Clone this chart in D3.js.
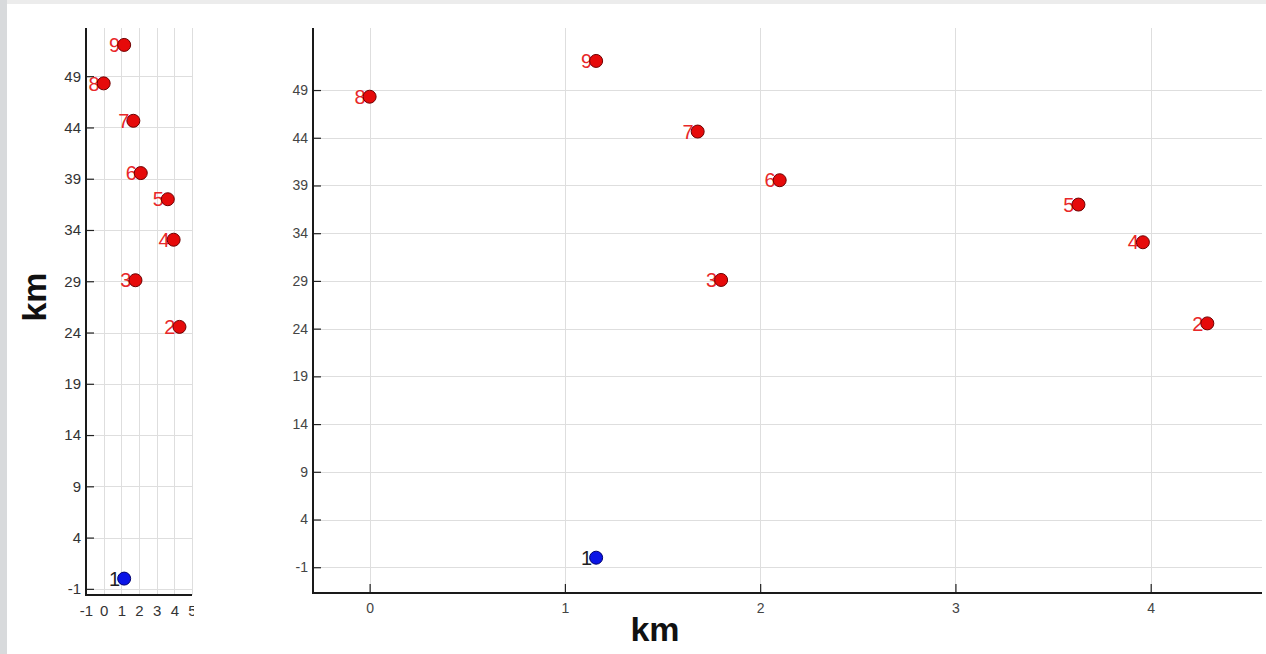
<!DOCTYPE html>
<html>
<head>
<meta charset="utf-8">
<script src="https://cdn.jsdelivr.net/npm/d3@7/dist/d3.min.js"></script>
<style>
  html, body { margin: 0; padding: 0; background: #ffffff; }
  svg { display: block; }
  text { font-family: "Liberation Sans", Arial, sans-serif; }
</style>
</head>
<body>
<svg id="chart" width="1266" height="654"></svg>
<script>
// ---- data ----
const pointIds = ["1", "2", "3", "4", "5", "6", "7", "8", "9"];
const xKm = [1.16, 4.29, 1.80, 3.96, 3.63, 2.10, 1.68, 0.00, 1.16];
const yKm = [0.0, 24.55, 29.1, 33.05, 37.0, 39.55, 44.65, 48.3, 52.05];
const pointGroups = ["station", "event", "event", "event", "event", "event", "event", "event", "event"];
const yTickValues = [-1, 4, 9, 14, 19, 24, 29, 34, 39, 44, 49];
const xTickValuesMain = [0, 1, 2, 3, 4];
const xTickValuesSmall = [-1, 0, 1, 2, 3, 4, 5];
const axisTitle = "km";

const points = pointIds.map((id, i) => ({ id, x: xKm[i], y: yKm[i], group: pointGroups[i] }));

const fillColor = d3.scaleOrdinal().domain(["station", "event"]).range(["#0a14e6", "#e60a0a"]);
const strokeColor = d3.scaleOrdinal().domain(["station", "event"]).range(["#00006e", "#6e0000"]);
const labelColor = d3.scaleOrdinal().domain(["station", "event"]).range(["#222222", "#e8282a"]);
const tickFmt = d => String(d);

const svg = d3.select("#chart");

// frame background
svg.append("rect").attr("x", 0).attr("y", 0).attr("width", 1266).attr("height", 654).attr("fill", "#ffffff");
svg.append("rect").attr("x", 0).attr("y", 0).attr("width", 1266).attr("height", 4).attr("fill", "#ececec");
svg.append("rect").attr("x", 0).attr("y", 0).attr("width", 7).attr("height", 654).attr("fill", "#d8dadc");

function drawPanel(cfg) {
  const x = d3.scaleLinear().domain(cfg.xDomain).range([cfg.left, cfg.right]);
  const y = d3.scaleLinear().domain(cfg.yDomain).range([cfg.bottom, cfg.top]);
  const g = svg.append("g");

  // grid
  g.append("g").selectAll("line.h").data(yTickValues).join("line")
    .attr("x1", cfg.left).attr("x2", cfg.right)
    .attr("y1", d => Math.round(y(d)) + 0.5).attr("y2", d => Math.round(y(d)) + 0.5)
    .attr("stroke", "#dedede").attr("stroke-width", 1);
  g.append("g").selectAll("line.v").data(cfg.xTicks).join("line")
    .attr("x1", d => Math.round(x(d)) + 0.5).attr("x2", d => Math.round(x(d)) + 0.5)
    .attr("y1", cfg.top).attr("y2", cfg.bottom)
    .attr("stroke", "#dedede").attr("stroke-width", 1);

  // y axis
  const yAxis = d3.axisLeft(y).tickValues(yTickValues).tickSize(-8).tickPadding(cfg.yPad).tickFormat(tickFmt);
  const ya = g.append("g").attr("transform", `translate(${cfg.left},0)`).call(yAxis)
    .attr("font-size", cfg.fontSize).attr("font-family", "'Liberation Sans', Arial, sans-serif");
  ya.select(".domain").remove();
  ya.selectAll(".tick line").attr("stroke", "#222").attr("stroke-width", 1.2);
  ya.selectAll(".tick text").style("font-size", cfg.fontSize + "px").attr("fill", cfg.tickColor);

  // x axis
  const xAxis = d3.axisBottom(x).tickValues(cfg.xTicks).tickSize(-9).tickPadding(10).tickFormat(tickFmt);
  const xa = g.append("g").attr("transform", `translate(0,${cfg.bottom})`).call(xAxis)
    .attr("font-size", cfg.fontSize).attr("font-family", "'Liberation Sans', Arial, sans-serif");
  xa.select(".domain").remove();
  xa.selectAll(".tick line").attr("stroke", "#222").attr("stroke-width", 1.2);
  xa.selectAll(".tick text").style("font-size", cfg.fontSize + "px").attr("fill", cfg.tickColor);
  if (cfg.clipRight) {
    const id = "clipx" + cfg.left;
    svg.append("clipPath").attr("id", id).append("rect")
      .attr("x", 0).attr("y", 0).attr("width", cfg.clipRight).attr("height", 654);
    xa.attr("clip-path", `url(#${id})`);
  }

  // axis lines
  g.append("line").attr("x1", cfg.left).attr("x2", cfg.left).attr("y1", cfg.top).attr("y2", cfg.bottom + 1)
    .attr("stroke", "#1a1a1a").attr("stroke-width", 2);
  g.append("line").attr("x1", cfg.left - 1).attr("x2", cfg.right).attr("y1", cfg.bottom).attr("y2", cfg.bottom)
    .attr("stroke", "#1a1a1a").attr("stroke-width", 2);

  // points
  const pg = g.append("g").selectAll("g").data(points).join("g")
    .attr("transform", d => `translate(${x(d.x)},${y(d.y)})`);
  pg.append("text").attr("x", -4).attr("y", 0).attr("dy", "0.36em")
    .attr("text-anchor", "end").attr("font-size", 20)
    .attr("fill", d => labelColor(d.group)).text(d => d.id);
  pg.append("circle").attr("r", 6.5)
    .attr("fill", d => fillColor(d.group)).attr("stroke", d => strokeColor(d.group)).attr("stroke-width", 1);
}

// small panel
drawPanel({
  xDomain: [-1, 5], yDomain: [-1.6, 53.7],
  left: 86, right: 192, top: 28, bottom: 595,
  xTicks: xTickValuesSmall, yPad: 5, fontSize: 15, tickColor: "#333", clipRight: 194
});

// main panel
drawPanel({
  xDomain: [-0.29, 4.57], yDomain: [-3.7, 55.5],
  left: 313, right: 1262, top: 28, bottom: 593,
  xTicks: xTickValuesMain, yPad: 5, fontSize: 14, tickColor: "#444"
});

// axis titles
svg.append("text").attr("x", 655).attr("y", 641).attr("text-anchor", "middle")
  .attr("font-size", 34).attr("font-weight", "bold").attr("fill", "#111").text(axisTitle);
svg.append("text").attr("transform", "translate(46,297) rotate(-90)").attr("text-anchor", "middle")
  .attr("font-size", 34).attr("font-weight", "bold").attr("fill", "#111").text(axisTitle);
</script>
</body>
</html>
